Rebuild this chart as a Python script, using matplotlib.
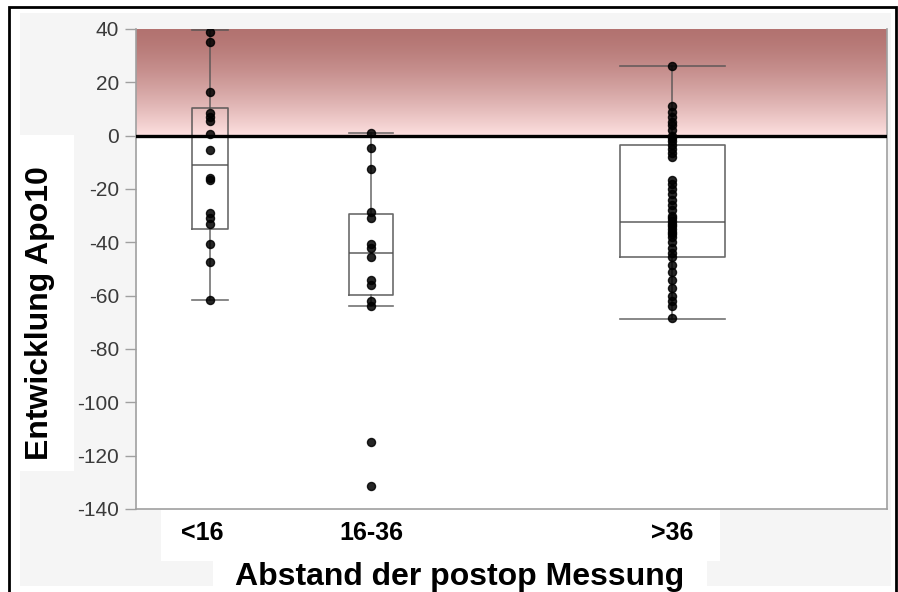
import numpy as np
import matplotlib
matplotlib.use("Agg")
import matplotlib.pyplot as plt
from matplotlib.patches import Rectangle

# data
groups = ["<16", "16-36", ">36"]
vals_lt16 = [39, 35, 16.5, 8.5, 7, 5.5, 0.5, -5.5, -16, -16.5, -29, -31, -33,
             -40.5, -47.5, -61.5]
vals_16_36 = [1, -4.5, -12.5, -28.5, -31, -40.5, -42, -45.5, -54, -56, -62,
              -64, -115, -131.5]
vals_gt36 = [26, 11, 9, 7, 5, 4, 2, 0, -1, -2, -3.5, -5, -6.5, -8,
             -16.5, -18, -20, -22, -24, -26, -28, -30, -31, -32, -33, -34,
             -35, -36, -37, -38, -40, -42, -44, -45.5, -48.5, -51, -54, -57,
             -60, -62, -64, -68.5]
q1 = [-35, -59.7, -45.4]
med = [-11, -44, -32.5]
q3 = [10.3, -29.5, -3.5]
whislo = [-61.5, -64, -68.7]
whishi = [39.5, 1, 26]

# layout (JMP spaces groups by size)
xpos = [0.0985, 0.313, 0.714]
bwidth = [0.048, 0.0586, 0.14]
label_x = [0.088, 0.313, 0.714]

W, H = 898, 592


def fr(x0, y0, x1, y1):
    # pixel box (top-left origin) -> figure fraction rect
    return (x0 / W, 1 - y1 / H), (x1 - x0) / W, (y1 - y0) / H


fig = plt.figure(figsize=(W / 100, H / 100), dpi=100)
fig.patch.set_facecolor("white")

bg = "#f5f5f5"
for x0, y0, x1, y1, c in [(20, 13, 891, 586, bg),
                          (20, 135, 74, 471, "white"),
                          (161, 510, 720, 561, "white"),
                          (213, 561, 707, 586, "white")]:
    xy, w, h = fr(x0, y0, x1, y1)
    fig.patches.append(Rectangle(xy, w, h, transform=fig.transFigure,
                                 facecolor=c, edgecolor="none", zorder=-2))
xy, w, h = fr(9, 7, 896, 600)
fig.patches.append(Rectangle(xy, w, h, transform=fig.transFigure, fill=False,
                             edgecolor="black", lw=2, zorder=5))

ax = fig.add_axes([136 / W, 1 - 509 / H, (887 - 136) / W, (509 - 29) / H])
ax.set_facecolor("white")
ax.set_xlim(0, 1)
ax.set_ylim(-140, 40)

# red gradient above zero
top = np.array([0.70, 0.45, 0.44])
bot = np.array([0.995, 0.88, 0.88])
t = np.linspace(0, 1, 256)[:, None] ** 1.4
grad = top[None, :] * (1 - t) + bot[None, :] * t
ax.imshow(grad[:, None, :], extent=[0, 1, 0, 40], aspect="auto", zorder=0)

stats = []
for i in range(3):
    stats.append(dict(q1=q1[i], med=med[i], q3=q3[i], whislo=whislo[i],
                      whishi=whishi[i], fliers=[]))
ax.bxp(stats, positions=xpos, widths=bwidth, capwidths=bwidth,
       showfliers=False, patch_artist=False,
       boxprops=dict(color="#505050", lw=1.2, alpha=0.85),
       medianprops=dict(color="#505050", lw=1.2, alpha=0.85),
       whiskerprops=dict(color="#505050", lw=1.2, alpha=0.8),
       capprops=dict(color="#505050", lw=1.2, alpha=0.8))

for x, v in zip(xpos, [vals_lt16, vals_16_36, vals_gt36]):
    ax.plot([x] * len(v), v, "o", color="black", ms=5.8, alpha=0.85,
            mec="black", zorder=4)

ax.axhline(0, color="black", lw=2.4, zorder=5)

ax.set_yticks(np.arange(-140, 41, 20))
ax.set_yticklabels([str(v) for v in range(-140, 41, 20)],
                   family="Liberation Sans", fontsize=15, color="#3a3a3a")
ax.tick_params(axis="y", length=8, width=1, color="#a0a0a0", pad=4)
ax.set_xticks(label_x)
ax.set_xticklabels(groups, family="Liberation Sans", fontweight="bold",
                   fontsize=18)
ax.tick_params(axis="x", length=0, pad=9)
ax.spines["top"].set_visible(False)
for s in ["left", "bottom", "right"]:
    ax.spines[s].set_color("#a0a0a0")
    ax.spines[s].set_linewidth(1.2)

fig.text(40 / W, 1 - 313 / H, "Entwicklung Apo10", rotation=90,
         family="Liberation Sans", fontweight="bold", fontsize=23,
         ha="center", va="center")
fig.text(460 / W, 1 - 585 / H, "Abstand der postop Messung",
         family="Liberation Sans", fontweight="bold", fontsize=23,
         ha="center", va="baseline")

fig.savefig("out.png", dpi=100)
